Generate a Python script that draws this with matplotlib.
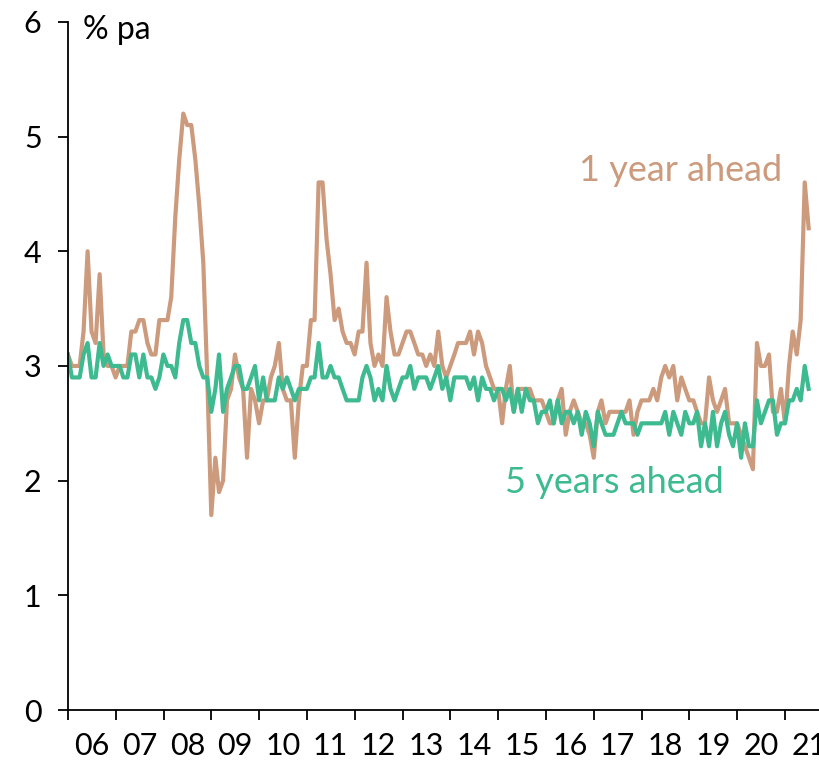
import matplotlib
matplotlib.use("Agg")
import matplotlib.pyplot as plt
import matplotlib.dates as mdates
import numpy as np
import pandas as pd

# monthly survey, Dec 2005 .. Jun 2021 (plotted at month end)
months = pd.date_range("2005-12-31", periods=187, freq="ME")

one_year = [
    3.1, 3.0, 3.0, 3.0, 3.3, 4.0, 3.3, 3.2, 3.8, 3.1, 3.0, 3.0,
    2.9, 3.0, 3.0, 3.0, 3.3, 3.3, 3.4, 3.4, 3.2, 3.1, 3.1, 3.4,
    3.4, 3.4, 3.6, 4.3, 4.8, 5.2, 5.1, 5.1, 4.8, 4.4, 3.9, 2.9,
    1.7, 2.2, 1.9, 2.0, 2.7, 2.8, 3.1, 2.9, 2.8, 2.2, 2.8, 2.7,
    2.5, 2.7, 2.7, 2.9, 3.0, 3.2, 2.8, 2.7, 2.7, 2.2, 2.7, 3.0,
    3.0, 3.4, 3.4, 4.6, 4.6, 4.1, 3.8, 3.4, 3.5, 3.3, 3.2, 3.2,
    3.1, 3.3, 3.3, 3.9, 3.2, 3.0, 3.1, 3.0, 3.6, 3.3, 3.1, 3.1,
    3.2, 3.3, 3.3, 3.2, 3.1, 3.1, 3.0, 3.1, 3.0, 3.3, 3.0, 2.9,
    3.0, 3.1, 3.2, 3.2, 3.2, 3.3, 3.1, 3.3, 3.2, 3.0, 2.9, 2.8,
    2.8, 2.5, 2.8, 3.0, 2.6, 2.8, 2.8, 2.8, 2.8, 2.7, 2.7, 2.7,
    2.6, 2.5, 2.5, 2.7, 2.8, 2.4, 2.6, 2.7, 2.6, 2.5, 2.5, 2.4,
    2.2, 2.6, 2.7, 2.5, 2.6, 2.6, 2.6, 2.6, 2.6, 2.7, 2.4, 2.6,
    2.7, 2.7, 2.7, 2.8, 2.7, 2.9, 3.0, 2.9, 3.0, 2.7, 2.9, 2.8,
    2.7, 2.7, 2.6, 2.5, 2.5, 2.9, 2.7, 2.6, 2.7, 2.8, 2.5, 2.5,
    2.5, 2.4, 2.3, 2.2, 2.1, 3.2, 3.0, 3.0, 3.1, 2.6, 2.6, 2.8,
    2.5, 3.0, 3.3, 3.1, 3.4, 4.6, 4.2,
]

five_year = [
    3.1, 2.9, 2.9, 2.9, 3.1, 3.2, 2.9, 2.9, 3.2, 3.0, 3.1, 3.0,
    3.0, 3.0, 2.9, 2.9, 3.1, 3.1, 2.9, 3.1, 2.9, 2.9, 2.8, 2.9,
    3.1, 3.0, 3.0, 2.9, 3.2, 3.4, 3.4, 3.2, 3.2, 3.0, 2.9, 2.9,
    2.6, 2.8, 3.1, 2.6, 2.8, 2.9, 3.0, 3.0, 2.8, 2.8, 2.9, 3.0,
    2.7, 2.9, 2.7, 2.7, 2.7, 2.9, 2.8, 2.9, 2.8, 2.7, 2.8, 2.8,
    2.8, 2.9, 2.9, 3.2, 2.9, 2.9, 3.0, 2.9, 2.9, 2.8, 2.7, 2.7,
    2.7, 2.7, 2.9, 3.0, 2.9, 2.7, 2.8, 2.7, 3.0, 2.8, 2.7, 2.8,
    2.9, 2.9, 3.0, 2.8, 2.9, 2.9, 2.9, 2.8, 2.9, 3.0, 2.8, 2.9,
    2.7, 2.9, 2.9, 2.9, 2.9, 2.8, 2.9, 2.7, 2.9, 2.8, 2.8, 2.7,
    2.8, 2.8, 2.7, 2.8, 2.6, 2.8, 2.6, 2.8, 2.7, 2.7, 2.5, 2.6,
    2.6, 2.7, 2.5, 2.7, 2.5, 2.6, 2.6, 2.5, 2.6, 2.4, 2.6, 2.5,
    2.3, 2.6, 2.5, 2.4, 2.4, 2.4, 2.5, 2.6, 2.5, 2.5, 2.5, 2.4,
    2.5, 2.5, 2.5, 2.5, 2.5, 2.5, 2.6, 2.4, 2.6, 2.5, 2.4, 2.6,
    2.5, 2.5, 2.6, 2.3, 2.5, 2.3, 2.6, 2.3, 2.5, 2.6, 2.4, 2.3,
    2.5, 2.2, 2.5, 2.3, 2.3, 2.7, 2.5, 2.6, 2.7, 2.7, 2.4, 2.5,
    2.5, 2.7, 2.7, 2.8, 2.7, 3.0, 2.8,
]

tan = "#CC9A7C"
green = "#3DBA90"

plt.rcParams["font.family"] = ["Lato", "DejaVu Sans"]

fig = plt.figure(figsize=(8.19, 7.66), dpi=100)
ax = fig.add_axes([0.083, 0.073, 0.917, 0.8985])

ax.plot(months, one_year, color=tan, lw=3)
ax.plot(months, five_year, color=green, lw=3)

ax.set_ylim(0, 6)
ax.set_xlim(pd.Timestamp("2006-01-01"), pd.Timestamp("2021-09-17"))

ax.spines["top"].set_visible(False)
ax.spines["right"].set_visible(False)
ax.spines["left"].set_linewidth(1.3)
ax.spines["bottom"].set_linewidth(1.3)

ax.set_yticks(range(0, 7))
ax.tick_params(axis="y", direction="out", length=7, width=1.3,
               labelsize=22, pad=12)

ax.xaxis.set_major_locator(mdates.YearLocator())
ax.xaxis.set_major_formatter(plt.NullFormatter())
ax.xaxis.set_minor_locator(mdates.MonthLocator(bymonth=7, bymonthday=1))
ax.xaxis.set_minor_formatter(mdates.DateFormatter("%y"))
ax.tick_params(axis="x", which="major", direction="out", length=7, width=1.3)
ax.tick_params(axis="x", which="minor", length=0, labelsize=22, pad=16)

ax.text(0.02, 5.93, "% pa", fontsize=23, va="center", ha="left",
        transform=ax.get_yaxis_transform())
ax.text(pd.Timestamp("2016-09-10"), 4.7, "1 year ahead", color=tan,
        fontsize=26, ha="left", va="center")
ax.text(pd.Timestamp("2015-02-20"), 1.98, "5 years ahead", color=green,
        fontsize=26, ha="left", va="center")

fig.savefig("out.png", dpi=100)
